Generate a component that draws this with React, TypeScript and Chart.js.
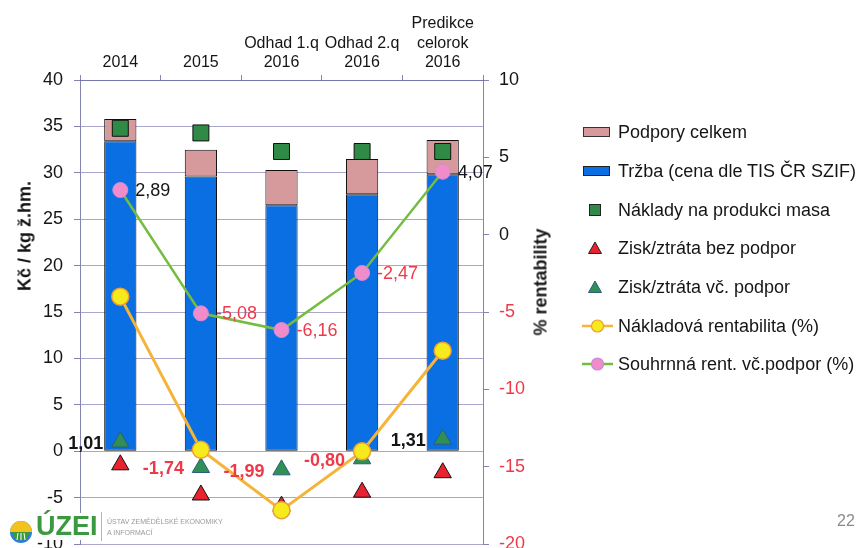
import React, { useEffect, useRef } from 'react';
import { Chart, registerables } from 'chart.js';

Chart.register(...registerables);

// ---- data ----
const categories: string[][] = [
  ['2014'],
  ['2015'],
  ['Odhad 1.q', '2016'],
  ['Odhad 2.q', '2016'],
  ['Predikce', 'celorok', '2016'],
];
const trzba = [33.4, 29.6, 26.5, 27.7, 29.85];
const podpory = [2.4, 2.9, 3.8, 3.8, 3.7];
const naklady = [34.8, 34.3, 32.3, 32.3, 32.3];
const ziskBez = [-1.45, -4.7, -5.9, -4.4, -2.3];
const ziskVc = [1.01, -1.74, -1.99, -0.8, 1.31];
const nakladovaRent = [-4.0, -13.9, -17.8, -14.0, -7.5];
const souhrnnaRent = [2.89, -5.08, -6.16, -2.47, 4.07];
const leftAxis = { min: -10, max: 40, step: 5 };
const rightAxis = { min: -20, max: 10, step: 5 };

const legendLabels = [
  'Podpory celkem',
  'Tržba (cena dle TIS ČR SZIF)',
  'Náklady na produkci masa',
  'Zisk/ztráta bez podpor',
  'Zisk/ztráta vč. podpor',
  'Nákladová rentabilita (%)',
  'Souhrnná rent. vč.podpor (%)',
];

// ---- styles ----
const FONT = '"Liberation Sans", Arial, Helvetica, sans-serif';
const RED = '#ee3a48';
const BLACK = '#151515';
const BLUE = '#0a6fe2';
const PINK_BAR = '#d6999c';
const GREEN_SQ = '#2f8a45';
const RED_TRI = '#e8222f';
const GREEN_TRI = '#2f8f55';
const YELLOW_LINE = '#f4b43a';
const YELLOW_PT = '#f7ea1c';
const GREEN_LINE = '#74bd40';
const PINK_PT = '#f18ccb';
const GRID = 'rgba(125,120,180,0.65)';
const AXIS = 'rgba(110,110,165,0.85)';

const fmt = (v: number) => v.toFixed(2).replace('.', ',');

const labelPlugin = {
  id: 'valueLabels',
  afterDatasetsDraw(chart: any) {
    const ctx = chart.ctx;
    ctx.save();
    ctx.textBaseline = 'middle';
    const mVc = chart.getDatasetMeta(4);
    ctx.font = `bold 18px ${FONT}`;
    ctx.textAlign = 'right';
    mVc.data.forEach((el: any, i: number) => {
      const v = ziskVc[i];
      ctx.fillStyle = v < 0 ? RED : BLACK;
      ctx.fillText(fmt(v), el.x - 17, el.y + 2);
    });
    const mS = chart.getDatasetMeta(6);
    ctx.font = `18px ${FONT}`;
    ctx.textAlign = 'left';
    mS.data.forEach((el: any, i: number) => {
      const v = souhrnnaRent[i];
      ctx.fillStyle = v < 0 ? RED : BLACK;
      ctx.fillText(fmt(v), el.x + 15, el.y + 1);
    });
    ctx.restore();
  },
};

function LegendSymbol({ kind }: { kind: number }) {
  const w = 34;
  const h = 20;
  switch (kind) {
    case 0:
      return (
        <svg width={w} height={h}>
          <rect x={1.5} y={5.5} width={26} height={9} fill={PINK_BAR} stroke="#333" strokeWidth={1} />
        </svg>
      );
    case 1:
      return (
        <svg width={w} height={h}>
          <rect x={1.5} y={5.5} width={26} height={9} fill={BLUE} stroke="#222" strokeWidth={1} />
        </svg>
      );
    case 2:
      return (
        <svg width={w} height={h}>
          <rect x={7.5} y={4.5} width={11} height={11} fill={GREEN_SQ} stroke="#222" strokeWidth={1} />
        </svg>
      );
    case 3:
      return (
        <svg width={w} height={h}>
          <polygon points="13,4 19.5,15.5 6.5,15.5" fill={RED_TRI} stroke="#222" strokeWidth={1} />
        </svg>
      );
    case 4:
      return (
        <svg width={w} height={h}>
          <polygon points="13,4 19.5,15.5 6.5,15.5" fill={GREEN_TRI} stroke="#2a5f7a" strokeWidth={1} />
        </svg>
      );
    case 5:
      return (
        <svg width={w} height={h}>
          <line x1={0} y1={10} x2={31} y2={10} stroke={YELLOW_LINE} strokeWidth={2.5} />
          <circle cx={15.5} cy={10} r={6} fill={YELLOW_PT} stroke="#e8a030" strokeWidth={1.2} />
        </svg>
      );
    default:
      return (
        <svg width={w} height={h}>
          <line x1={0} y1={10} x2={31} y2={10} stroke={GREEN_LINE} strokeWidth={2.5} />
          <circle cx={15.5} cy={10} r={6} fill={PINK_PT} stroke="#c98ad8" strokeWidth={1.2} />
        </svg>
      );
  }
}

export default function App() {
  const ref = useRef<HTMLCanvasElement | null>(null);

  useEffect(() => {
    document.body.style.margin = '0';
    document.body.style.background = '#ffffff';
    if (!ref.current) return;
    const chart = new Chart(ref.current, {
      type: 'bar',
      data: {
        labels: categories as any,
        datasets: [
          {
            type: 'bar',
            label: 'Tržba (cena dle TIS ČR SZIF)',
            data: trzba,
            backgroundColor: BLUE,
            borderColor: '#111',
            borderWidth: 1,
            borderSkipped: false,
            stack: 'bars',
            yAxisID: 'y',
            order: 10,
            barPercentage: 0.4,
            categoryPercentage: 1,
          } as any,
          {
            type: 'bar',
            label: 'Podpory celkem',
            data: podpory,
            backgroundColor: PINK_BAR,
            borderColor: '#111',
            borderWidth: 1,
            borderSkipped: false,
            stack: 'bars',
            yAxisID: 'y',
            order: 10,
            barPercentage: 0.4,
            categoryPercentage: 1,
          } as any,
          {
            type: 'line',
            label: 'Náklady na produkci masa',
            data: naklady,
            showLine: false,
            pointStyle: 'rect',
            pointRadius: 11.3,
            pointBackgroundColor: GREEN_SQ,
            pointBorderColor: '#111',
            pointBorderWidth: 1,
            stack: 'n',
            yAxisID: 'y',
            order: 6,
          } as any,
          {
            type: 'line',
            label: 'Zisk/ztráta bez podpor',
            data: ziskBez,
            showLine: false,
            pointStyle: 'triangle',
            pointRadius: 10,
            pointBackgroundColor: RED_TRI,
            pointBorderColor: '#111',
            pointBorderWidth: 1,
            stack: 'zb',
            yAxisID: 'y',
            order: 5,
          } as any,
          {
            type: 'line',
            label: 'Zisk/ztráta vč. podpor',
            data: ziskVc,
            showLine: false,
            pointStyle: 'triangle',
            pointRadius: 10,
            pointBackgroundColor: GREEN_TRI,
            pointBorderColor: '#2a5f7a',
            pointBorderWidth: 1,
            stack: 'zv',
            yAxisID: 'y',
            order: 4,
          } as any,
          {
            type: 'line',
            label: 'Nákladová rentabilita (%)',
            data: nakladovaRent,
            borderColor: YELLOW_LINE,
            borderWidth: 3,
            tension: 0,
            pointStyle: 'circle',
            pointRadius: 8.5,
            pointBackgroundColor: YELLOW_PT,
            pointBorderColor: '#e9a036',
            pointBorderWidth: 1.5,
            stack: 'nr',
            yAxisID: 'y1',
            order: 3,
          } as any,
          {
            type: 'line',
            label: 'Souhrnná rent. vč.podpor (%)',
            data: souhrnnaRent,
            borderColor: GREEN_LINE,
            borderWidth: 2.5,
            tension: 0,
            pointStyle: 'circle',
            pointRadius: 7.5,
            pointBackgroundColor: PINK_PT,
            pointBorderColor: '#cf8cdc',
            pointBorderWidth: 1,
            stack: 'sr',
            yAxisID: 'y1',
            order: 2,
          } as any,
        ],
      },
      options: {
        responsive: false,
        animation: false,
        devicePixelRatio: 1,
        layout: { padding: { left: 0, right: 321, top: 0, bottom: 17 } },
        plugins: {
          legend: { display: false },
          tooltip: { enabled: false },
        },
        scales: {
          x: {
            position: 'top',
            stacked: true,
            offset: true,
            grid: {
              display: true,
              drawOnChartArea: false,
              drawTicks: true,
              tickLength: 5,
              color: AXIS,
              offset: true,
            },
            border: { display: true, color: AXIS, width: 1 },
            ticks: {
              font: { family: FONT, size: 16 },
              color: BLACK,
              padding: 3,
              maxRotation: 0,
              autoSkip: false,
            },
            afterFit: (s: any) => {
              s.height = 80;
            },
          },
          y: {
            position: 'left',
            stacked: true,
            min: leftAxis.min,
            max: leftAxis.max,
            ticks: {
              stepSize: leftAxis.step,
              font: { family: FONT, size: 18 },
              color: BLACK,
              padding: 11,
            },
            grid: { color: GRID, tickLength: 6, tickColor: AXIS, lineWidth: 1 },
            border: { display: true, color: AXIS, width: 1 },
            afterFit: (s: any) => {
              s.width = 80;
            },
          },
          y1: {
            position: 'right',
            min: rightAxis.min,
            max: rightAxis.max,
            ticks: {
              stepSize: rightAxis.step,
              font: { family: FONT, size: 18 },
              color: (c: any) => (c.tick && c.tick.value < 0 ? RED : BLACK),
              padding: 10,
            },
            grid: { drawOnChartArea: false, tickLength: 6, color: AXIS, tickColor: AXIS },
            border: { display: true, color: AXIS, width: 1 },
            afterFit: (s: any) => {
              s.width = 60;
            },
          },
        },
      } as any,
      plugins: [labelPlugin],
    });
    return () => chart.destroy();
  }, []);

  const legendCenters = [132, 171, 210, 248, 287, 326, 364];

  return (
    <div style={{ position: 'relative', width: 864, height: 548, overflow: 'hidden', background: '#fff', fontFamily: FONT }}>
      <canvas ref={ref} width={864} height={566} style={{ position: 'absolute', left: 0, top: 0 }} />
      {/* axis titles */}
      <div
        style={{
          position: 'absolute',
          left: 25,
          top: 236,
          transform: 'translate(-50%, -50%) rotate(-90deg)',
          whiteSpace: 'nowrap',
          fontWeight: 'bold',
          fontSize: 18,
          color: BLACK,
        }}
      >
        Kč / kg ž.hm.
      </div>
      <div
        style={{
          position: 'absolute',
          left: 541,
          top: 282,
          transform: 'translate(-50%, -50%) rotate(-90deg)',
          whiteSpace: 'nowrap',
          fontWeight: 'bold',
          fontSize: 18,
          color: BLACK,
        }}
      >
        % rentability
      </div>
      {/* legend */}
      {legendLabels.map((t, i) => (
        <div key={t} style={{ position: 'absolute', left: 582, top: legendCenters[i] - 11, height: 22, display: 'flex', alignItems: 'center' }}>
          <div style={{ width: 36, height: 20 }}>
            <LegendSymbol kind={i} />
          </div>
          <span style={{ fontSize: 18, color: BLACK, whiteSpace: 'nowrap' }}>{t}</span>
        </div>
      ))}
      {/* logo */}
      <div style={{ position: 'absolute', left: 6, top: 513, width: 94, height: 27, background: '#fff' }} />
      <svg style={{ position: 'absolute', left: 8, top: 519 }} width={28} height={26}>
        <circle cx={13} cy={13} r={11} fill="#2f7fd0" />
        <path d="M2,13 A11,11 0 0,1 24,13 Z" fill="#f3c21d" />
        <path d="M4,13 L22,13 L18,21 L8,21 Z" fill="#3c9a3c" />
        <line x1={10} y1={14} x2={9} y2={21} stroke="#fff" strokeWidth={1} />
        <line x1={13} y1={14} x2={13} y2={21} stroke="#fff" strokeWidth={1} />
        <line x1={16} y1={14} x2={17} y2={21} stroke="#fff" strokeWidth={1} />
      </svg>
      <div style={{ position: 'absolute', left: 36, top: 511, fontSize: 27, fontWeight: 'bold', color: '#3b9a3f', letterSpacing: 0 }}>ÚZEI</div>
      <div style={{ position: 'absolute', left: 101, top: 512, width: 1, height: 29, background: '#b5b5b5' }} />
      <div style={{ position: 'absolute', left: 107, top: 516, fontSize: 7, lineHeight: '11px', color: '#9a9a9a', whiteSpace: 'nowrap' }}>
        ÚSTAV ZEMĚDĚLSKÉ EKONOMIKY
        <br />A INFORMACÍ
      </div>
      <div style={{ position: 'absolute', left: 837, top: 512, fontSize: 16, color: '#8a8a8a' }}>22</div>
    </div>
  );
}
